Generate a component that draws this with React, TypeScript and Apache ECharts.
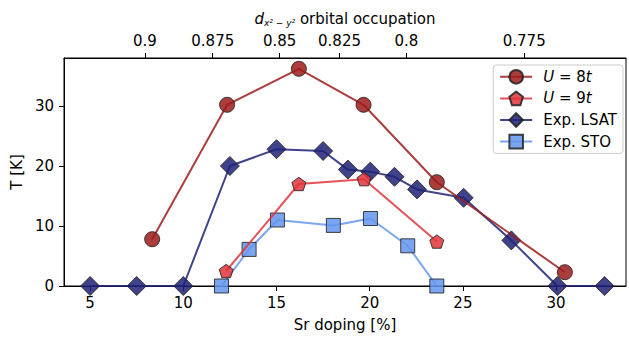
import React, { useEffect, useRef } from "react";
import * as echarts from "echarts";

const u8x = [8.33, 12.35, 16.2, 19.67, 23.6, 30.47];
const u8y = [7.8, 30.2, 36.2, 30.2, 17.3, 2.3];
const u9x = [12.3, 16.2, 19.7, 23.6];
const u9y = [2.5, 17.0, 17.8, 7.4];
const lsatX = [5, 7.5, 10, 12.5, 15.0, 17.5, 18.83, 20.03, 21.33, 22.54, 25.04, 27.6, 30.07, 32.6];
const lsatY = [0, 0, 0, 20.0, 22.8, 22.5, 19.4, 19.06, 18.2, 16.1, 14.7, 7.6, 0, 0];
const stoX = [12.05, 13.53, 15.05, 18.05, 20.04, 22.04, 23.6];
const stoY = [0, 6.1, 11.0, 10.1, 11.25, 6.7, 0];

const bottomTicks = [5, 10, 15, 20, 25, 30];
const yTicks = [0, 10, 20, 30];
const topTickPos = [7.94, 11.58, 15.17, 18.38, 21.97, 28.29];
const topTickLabels = ["0.9", "0.875", "0.85", "0.825", "0.8", "0.775"];

const zip = (xs: number[], ys: number[]) => xs.map((x, i) => [x, ys[i]]);

const PENT = "path://M0,-1 L0.951,-0.309 L0.588,0.809 L-0.588,0.809 L-0.951,-0.309 Z";
const FONT = "DejaVu Sans";
const FS = 15;

export default function App() {
  const ref = useRef<HTMLDivElement>(null);
  useEffect(() => {
    const chart = echarts.init(ref.current!, null, { renderer: "svg" });
    const mk = (name: string, data: number[][], color: string, symbol: string, size: number, z: number) => ({
      name,
      type: "line",
      data,
      symbol,
      symbolSize: size,
      symbolKeepAspect: true,
      z,
      lineStyle: { color, width: 2, opacity: 0.85 },
      itemStyle: { color, opacity: 0.85, borderColor: "#222", borderWidth: 1 },
      emphasis: { disabled: true },
    });
    chart.setOption({
      animation: false,
      textStyle: { fontFamily: FONT },
      grid: { left: 64, right: 3, top: 58, bottom: 47, show: true, borderColor: "#000", borderWidth: 1 },
      legend: {
        right: 6,
        top: 65,
        orient: "vertical",
        itemWidth: 32,
        itemHeight: 17,
        itemGap: 6,
        padding: [4, 6, 4, 6],
        borderColor: "#ccc",
        borderWidth: 1,
        borderRadius: 3,
        backgroundColor: "rgba(255,255,255,0.8)",
        textStyle: {
          fontSize: FS,
          color: "#000",
          fontFamily: FONT,
          padding: [0, 0, 0, 6],
          rich: { i: { fontStyle: "italic", fontSize: FS, fontFamily: FONT, color: "#000" } },
        },
        formatter: (n: string) => (n.startsWith("U") ? `{i|U} = ${n.slice(4, 5)}{i|t}` : n),
      },
      xAxis: [
        {
          type: "value",
          min: 3.6,
          max: 33.75,
          name: "Sr doping [%]",
          nameLocation: "middle",
          nameGap: 31,
          nameTextStyle: { fontSize: FS, color: "#000", fontFamily: FONT },
          axisLine: { show: true, lineStyle: { color: "#000" } },
          axisTick: { show: true, customValues: bottomTicks, length: 5, lineStyle: { color: "#000" } },
          axisLabel: { customValues: bottomTicks, fontSize: FS, color: "#000", margin: 9 },
          splitLine: { show: false },
        },
        {
          type: "value",
          position: "top",
          min: 3.6,
          max: 33.75,
          name: "{i|d}{s|x² − y²} orbital occupation",
          nameLocation: "middle",
          nameGap: 31,
          nameTextStyle: {
            fontSize: FS,
            color: "#000",
            fontFamily: FONT,
            rich: {
              i: { fontStyle: "italic", fontSize: FS, fontFamily: FONT, color: "#000" },
              s: { fontStyle: "italic", fontSize: 9, fontFamily: FONT, color: "#000", padding: [7, 0, 0, 0] },
            },
          },
          axisLine: { show: true, lineStyle: { color: "#000" } },
          axisTick: { show: true, customValues: topTickPos, length: 5, lineStyle: { color: "#000" } },
          axisLabel: {
            customValues: topTickPos,
            fontSize: FS,
            color: "#000",
            margin: 10,
            formatter: (v: number) => {
              let best = 0;
              topTickPos.forEach((p, i) => {
                if (Math.abs(p - v) < Math.abs(topTickPos[best] - v)) best = i;
              });
              return topTickLabels[best];
            },
          },
          splitLine: { show: false },
        },
      ],
      yAxis: {
        type: "value",
        min: 0,
        max: 38,
        name: "T [K]",
        nameLocation: "middle",
        nameGap: 40,
        nameTextStyle: { fontSize: FS, color: "#000", fontFamily: FONT },
        axisLine: { show: true, lineStyle: { color: "#000" } },
        axisTick: { show: true, customValues: yTicks, length: 5, lineStyle: { color: "#000" } },
        axisLabel: { customValues: yTicks, fontSize: FS, color: "#000", margin: 10 },
        splitLine: { show: false },
      },
      series: [
        mk("U = 8t", zip(u8x, u8y), "#9e1b1b", "circle", 15, 4),
        mk("U = 9t", zip(u9x, u9y), "#e0343a", PENT, 14, 3),
        mk("Exp. LSAT", zip(lsatX, lsatY), "#1f2275", "diamond", 19, 2),
        mk("Exp. STO", zip(stoX, stoY), "#6495ed", "rect", 14, 1),
      ],
    });
    return () => chart.dispose();
  }, []);
  return <div ref={ref} style={{ width: 629, height: 337, position: "absolute", left: 0, top: 0 }} />;
}
